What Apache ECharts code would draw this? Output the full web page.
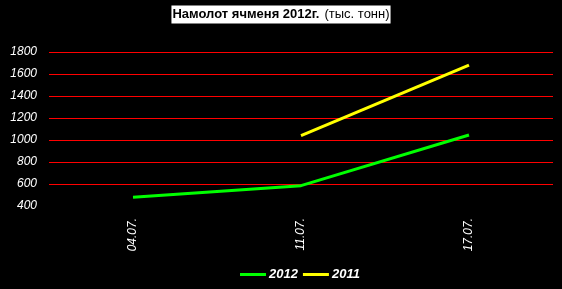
<!DOCTYPE html>
<html><head><meta charset="utf-8">
<script src="https://cdn.jsdelivr.net/npm/echarts@6/dist/echarts.min.js"></script>
<style>html,body{margin:0;padding:0;background:#000}#c{width:562px;height:289px}</style>
</head><body><div id="c"></div>
<script>
var categories = ['04.07.', '11.07.', '17.07.'];
var values2012 = [480, 585, 1045];
var values2011 = [null, 1040, 1680];
var seriesNames = ['2012', '2011'];

var chart = echarts.init(document.getElementById('c'));
chart.setOption({
  backgroundColor: '#000',
  animation: false,
  title: {
    text: '{b|Намолот ячменя 2012г.} {n|(тыс. тонн)}',
    left: 'center',
    top: 7,
    padding: [0, 1, 0, 1],
    backgroundColor: '#fff',
    textStyle: {
      lineHeight: 15,
      rich: {
        b: {fontFamily: 'Liberation Sans', fontWeight: 'bold', fontSize: 13, color: '#000', lineHeight: 15},
        n: {fontFamily: 'Liberation Sans', fontWeight: 'normal', fontSize: 13, color: '#000', lineHeight: 15}
      }
    }
  },
  legend: {
    top: 268,
    left: 240,
    padding: 0,
    itemWidth: 26,
    itemHeight: 3,
    itemGap: 5,
    icon: 'rect',
    data: seriesNames,
    textStyle: {color: '#fff', fontFamily: 'Liberation Sans', fontWeight: 'bold', fontStyle: 'italic', fontSize: 13, padding: [0,0,0,-2]}
  },
  grid: {left: 49, right: 9, top: 52, height: 154},
  xAxis: {
    type: 'category',
    data: categories,
    boundaryGap: true,
    axisLine: {show: false},
    axisTick: {show: false},
    axisLabel: {rotate: 90, color: '#fff', fontFamily: 'Liberation Sans', fontStyle: 'italic', fontSize: 12, margin: 12}
  },
  yAxis: {
    type: 'value',
    min: 400, max: 1800, interval: 200,
    axisLine: {show: false},
    axisTick: {show: false},
    splitLine: {show: true, showMinLine: false, lineStyle: {color: '#ff0000', width: 1}},
    axisLabel: {color: '#fff', fontFamily: 'Liberation Sans', fontStyle: 'italic', fontSize: 12, margin: 12,
      formatter: function (v) { return String(v); }}
  },
  series: [
    {name: seriesNames[0], type: 'line', data: values2012, symbol: 'none', lineStyle: {color: '#00ff00', width: 3}, itemStyle: {color: '#00ff00'}},
    {name: seriesNames[1], type: 'line', data: values2011, symbol: 'none', lineStyle: {color: '#ffff00', width: 3}, itemStyle: {color: '#ffff00'}}
  ]
});
</script></body></html>
